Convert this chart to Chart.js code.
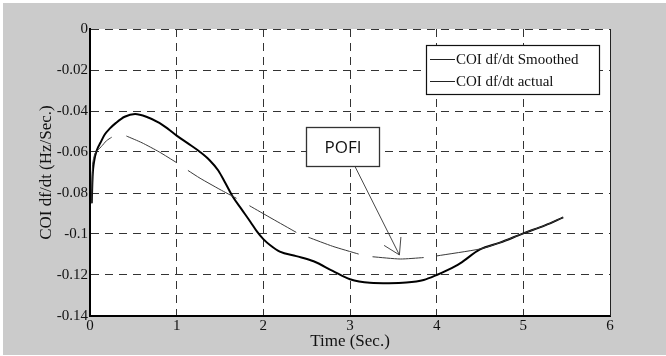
<!DOCTYPE html>
<html>
<head>
<meta charset="utf-8">
<script src="https://cdn.jsdelivr.net/npm/chart.js@4"></script>
<style>
  html, body { margin: 0; padding: 0; background: #fff; }
  #wrap { width: 666px; height: 356px; }
</style>
</head>
<body>
<div id="wrap"><canvas id="chart" width="666" height="356"></canvas></div>
<script>
// ── Data ────────────────────────────────────────────────────────────────────

const actualT = [0.02, 0.03, 0.05, 0.08, 0.12, 0.17, 0.23, 0.3, 0.4, 0.52, 0.65, 0.8, 0.9, 1.0,
  1.13, 1.27, 1.38, 1.48, 1.56, 1.65, 1.75, 1.85, 1.93, 2.0, 2.08, 2.19, 2.38, 2.58, 2.8, 3.0,
  3.23, 3.45, 3.65, 3.85, 4.0, 4.13, 4.27, 4.5, 4.73, 5.0, 5.25, 5.46];
const actualV = [-0.085, -0.072, -0.064, -0.059, -0.0555, -0.0515, -0.0485, -0.0458, -0.0428,
  -0.0415, -0.0428, -0.0458, -0.0487, -0.052, -0.0558, -0.0600, -0.064, -0.069, -0.075, -0.082,
  -0.088, -0.094, -0.099, -0.1025, -0.1055, -0.1086, -0.1108, -0.1133, -0.118, -0.1221,
  -0.1238, -0.124, -0.1237, -0.1224, -0.120, -0.1175, -0.1143, -0.1075, -0.1042, -0.0997,
  -0.0958, -0.0919];

// smoothed curve is drawn in pieces; null marks a break
const smoothT = [0.02, 0.03, 0.06, 0.13, 0.19, 0.25, 0.33,
  0.42, 0.6, 0.8, 1.0, 1.07,
  1.13, 1.27, 1.5, 1.69, 1.77,
  1.84, 2.1, 2.38, 2.45,
  2.52, 2.8, 3.1, 3.18,
  3.26, 3.58, 3.85, 3.92,
  4.0, 4.5, 4.73, 5.0, 5.25, 5.46];
const smoothV = [-0.085, -0.066, -0.0605, -0.0574, -0.0545, -0.0528, null,
  -0.0522, -0.0555, -0.0600, -0.0652, null,
  -0.0690, -0.0728, -0.0783, -0.0826, null,
  -0.0862, -0.0925, -0.0992, null,
  -0.1016, -0.106, -0.1098, null,
  -0.1111, -0.1122, -0.1115, null,
  -0.1107, -0.1073, -0.1042, -0.0997, -0.0958, -0.0919];

const xTicks = [0, 1, 2, 3, 4, 5, 6];
const yTicks = [0, -0.02, -0.04, -0.06, -0.08, -0.1, -0.12, -0.14];
const yTickLabels = ["0", "-0.02", "-0.04", "-0.06", "-0.08", "-0.1", "-0.12", "-0.14"];

const seriesNames = ["COI df/dt Smoothed", "COI df/dt actual"];
const pofiLabel = "POFI";
const pofiTip = { x: 3.57, y: -0.1102 };

const SERIF = "'Liberation Serif', 'DejaVu Serif', serif";

// ── Decorations: background, right border, legend, POFI callout ─────────────

const decor = {
  id: "decor",
  beforeDraw(chart) {
    const { ctx, chartArea: a } = chart;
    ctx.save();
    ctx.fillStyle = "#fff";
    ctx.fillRect(0, 0, chart.width, chart.height);
    ctx.fillStyle = "#cbcbcb";
    ctx.fillRect(3, 3, chart.width - 3, chart.height - 4);
    ctx.fillStyle = "#fff";
    ctx.fillRect(a.left, a.top, a.right - a.left, a.bottom - a.top);
    ctx.restore();
  },
  afterDraw(chart) {
    const { ctx, chartArea: a, scales } = chart;
    ctx.save();

    // right border
    ctx.strokeStyle = "#222";
    ctx.lineWidth = 1;
    ctx.beginPath();
    ctx.moveTo(a.right + 0.5, a.top);
    ctx.lineTo(a.right + 0.5, a.bottom);
    ctx.stroke();

    // legend
    const lx = 426.5, ly = 45.5, lw = 173, lh = 49;
    ctx.fillStyle = "#fff";
    ctx.fillRect(lx, ly, lw, lh);
    ctx.strokeStyle = "#111";
    ctx.lineWidth = 1.2;
    ctx.strokeRect(lx, ly, lw, lh);
    ctx.font = "15px " + SERIF;
    ctx.textBaseline = "middle";
    ctx.fillStyle = "#111";
    seriesNames.forEach((name, i) => {
      const y = 59.5 + i * 22;
      ctx.strokeStyle = "#222";
      ctx.lineWidth = 1;
      ctx.beginPath();
      ctx.moveTo(430, y);
      ctx.lineTo(455, y);
      ctx.stroke();
      ctx.fillText(name, 456, y + 0.5);
    });

    // POFI box + arrow
    const bx = 306.5, by = 127.5, bw = 73, bh = 39;
    ctx.fillStyle = "#fff";
    ctx.fillRect(bx, by, bw, bh);
    ctx.strokeStyle = "#333";
    ctx.lineWidth = 1.3;
    ctx.strokeRect(bx, by, bw, bh);
    ctx.fillStyle = "#111";
    ctx.font = "17px 'Open Sans', 'Noto Sans', sans-serif";
    ctx.textAlign = "center";
    ctx.textBaseline = "middle";
    ctx.fillText(pofiLabel, bx + bw / 2, by + bh / 2 + 1);

    const tx = scales.x.getPixelForValue(pofiTip.x);
    const ty = scales.y.getPixelForValue(pofiTip.y);
    const sx = 355, sy = by + bh;
    const ang = Math.atan2(ty - sy, tx - sx);
    const hl = 18, spread = 0.55;
    ctx.strokeStyle = "#333";
    ctx.lineWidth = 0.9;
    ctx.beginPath();
    ctx.moveTo(sx, sy);
    ctx.lineTo(tx, ty);
    ctx.moveTo(tx - hl * Math.cos(ang - spread), ty - hl * Math.sin(ang - spread));
    ctx.lineTo(tx, ty);
    ctx.lineTo(tx - hl * Math.cos(ang + spread), ty - hl * Math.sin(ang + spread));
    ctx.stroke();

    ctx.restore();
  }
};

// ── Chart ───────────────────────────────────────────────────────────────────

const toPoints = (ts, vs) => ts.map((t, i) => ({ x: t, y: vs[i] }));

new Chart(document.getElementById("chart"), {
  type: "line",
  data: {
    datasets: [{
      label: seriesNames[0],
      data: toPoints(smoothT, smoothV),
      borderColor: "#3a3a3a",
      borderWidth: 1,
      pointRadius: 0,
      tension: 0.2,
      spanGaps: false,
    }, {
      label: seriesNames[1],
      data: toPoints(actualT, actualV),
      borderColor: "#000",
      borderWidth: 2,
      pointRadius: 0,
      cubicInterpolationMode: "monotone",
    }]
  },
  options: {
    responsive: false,
    animation: false,
    devicePixelRatio: 1,
    layout: { padding: { top: 29, right: 56, left: 0, bottom: 0 } },
    plugins: { legend: { display: false }, tooltip: { enabled: false } },
    scales: {
      x: {
        type: "linear",
        min: 0,
        max: 6,
        afterBuildTicks: s => { s.ticks = xTicks.map(v => ({ value: v })); },
        afterFit: s => { s.height = 40; },
        ticks: {
          color: "#111",
          padding: 1,
          font: { family: SERIF, size: 15 },
          callback: v => String(v),
        },
        grid: { color: "#333", lineWidth: 1, drawTicks: false },
        border: { display: true, color: "#000", width: 2, dash: [8, 6] },
        title: {
          display: true,
          text: "Time (Sec.)",
          color: "#111",
          font: { family: SERIF, size: 17 },
          padding: { top: 0, bottom: 4 },
        },
      },
      y: {
        type: "linear",
        min: -0.14,
        max: 0,
        afterBuildTicks: s => { s.ticks = yTicks.map(v => ({ value: v })); },
        afterFit: s => { s.width = 90; },
        ticks: {
          color: "#111",
          padding: 2,
          font: { family: SERIF, size: 15 },
          callback: v => yTickLabels[yTicks.indexOf(v)] ?? String(v),
        },
        grid: { color: "#333", lineWidth: 1, drawTicks: false },
        border: { display: true, color: "#000", width: 2, dash: [8, 6] },
        title: {
          display: true,
          text: "COI df/dt (Hz/Sec.)",
          color: "#111",
          font: { family: SERIF, size: 17 },
          padding: { top: 36, bottom: 0 },
        },
      }
    }
  },
  plugins: [decor]
});
</script>
</body>
</html>
